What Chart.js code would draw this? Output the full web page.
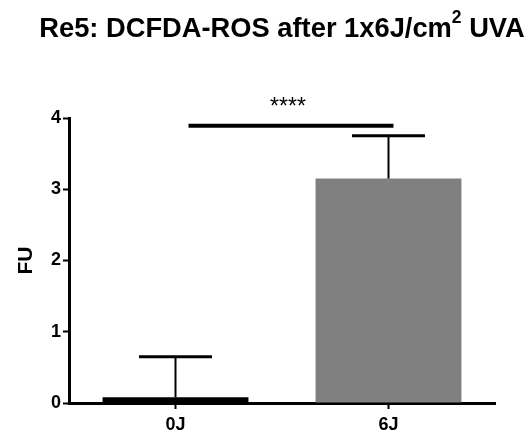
<!DOCTYPE html>
<html>
<head>
<meta charset="utf-8">
<script src="https://cdn.jsdelivr.net/npm/chart.js@4"></script>
<style>
  html, body { margin: 0; padding: 0; background: #fff; }
  #wrap { width: 528px; height: 434px; }
</style>
</head>
<body>
<div id="wrap"><canvas id="rosChart" width="528" height="434"></canvas></div>
<script>
const groups = ['0J', '6J'];
const meanFU = [0.08, 3.15];
const sdFU = [0.57, 0.60];
const barColors = ['#000000', '#808080'];
const yTicks = [0, 1, 2, 3, 4];
const sigLevel = 3.89;
const sigLabel = '****';
// title pieces: main text, superscript, tail
const titleParts = ['Re5: DCFDA-ROS after 1x6J/cm', '2', ' UVA'];

const FONT = 'Arial, "Liberation Sans", Helvetica, sans-serif';

// title with a real superscript, centred over the plot area
const superTitle = {
    id: 'superTitle',
    afterDraw(chart) {
        const ctx = chart.ctx;
        const area = chart.chartArea;
        const mainFont = 'bold 27.3px ' + FONT;
        const supFont = 'bold 17.5px ' + FONT;
        ctx.save();
        ctx.fillStyle = '#000';
        ctx.textBaseline = 'alphabetic';
        ctx.textAlign = 'left';
        ctx.font = mainFont;
        const w0 = ctx.measureText(titleParts[0]).width;
        const w2 = ctx.measureText(titleParts[2]).width;
        ctx.font = supFont;
        const w1 = ctx.measureText(titleParts[1]).width;
        const base = 36.5;
        let x = (area.left + area.right) / 2 - (w0 + w1 + w2) / 2;
        ctx.font = mainFont;
        ctx.fillText(titleParts[0], x, base);
        x += w0;
        ctx.font = supFont;
        ctx.fillText(titleParts[1], x, base - 13.5);
        x += w1;
        ctx.font = mainFont;
        ctx.fillText(titleParts[2], x, base);
        ctx.restore();
    }
};

// error bars (mean + SD, upper only) and significance bracket
const annotations = {
    id: 'annotations',
    afterDatasetsDraw(chart) {
        const ctx = chart.ctx;
        const x = chart.scales.x;
        const y = chart.scales.y;
        const meta = chart.getDatasetMeta(0);
        ctx.save();
        ctx.strokeStyle = '#000';
        meta.data.forEach((bar, i) => {
            const cx = bar.x;
            const top = y.getPixelForValue(meanFU[i] + sdFU[i]);
            const base = y.getPixelForValue(meanFU[i]);
            const half = bar.width / 4;
            ctx.lineWidth = 2;
            ctx.beginPath();
            ctx.moveTo(cx, base);
            ctx.lineTo(cx, top);
            ctx.stroke();
            ctx.lineWidth = 3;
            ctx.beginPath();
            ctx.moveTo(cx - half, top);
            ctx.lineTo(cx + half, top);
            ctx.stroke();
        });
        const x0 = x.getPixelForValue(0) + 13;
        const x1 = x.getPixelForValue(1) + 5;
        const ys = y.getPixelForValue(sigLevel);
        ctx.lineWidth = 4;
        ctx.beginPath();
        ctx.moveTo(x0, ys);
        ctx.lineTo(x1, ys);
        ctx.stroke();
        ctx.fillStyle = '#000';
        ctx.font = '23px ' + FONT;
        ctx.textAlign = 'center';
        ctx.textBaseline = 'middle';
        ctx.fillText(sigLabel, (x0 + x1) / 2 - 3, ys - 18);
        ctx.restore();
    }
};

new Chart(document.getElementById('rosChart').getContext('2d'), {
    type: 'bar',
    data: {
        labels: groups,
        datasets: [{
            data: meanFU,
            backgroundColor: barColors,
            borderWidth: 0,
            categoryPercentage: 1,
            barPercentage: 0.685
        }]
    },
    options: {
        responsive: false,
        animation: false,
        layout: { padding: { left: 0, right: 33, top: 118, bottom: 0 } },
        plugins: {
            legend: { display: false },
            tooltip: { enabled: false },
            title: { display: false }
        },
        scales: {
            x: {
                grid: { display: true, drawOnChartArea: false, drawTicks: true, tickLength: 6, tickWidth: 2, tickColor: '#000', offset: false },
                border: { display: true, color: '#000', width: 3 },
                ticks: { color: '#000', font: { family: FONT, size: 18, weight: 'bold' }, padding: 5 },
                afterFit(scale) { scale.height = 31; }
            },
            y: {
                min: 0,
                max: 4,
                afterBuildTicks(scale) { scale.ticks = yTicks.map(v => ({ value: v })); },
                grid: { display: true, drawOnChartArea: false, drawTicks: true, tickLength: 6, tickWidth: 2, tickColor: '#000' },
                border: { display: true, color: '#000', width: 3 },
                ticks: { color: '#000', font: { family: FONT, size: 18, weight: 'bold' }, padding: 2 },
                title: { display: true, text: 'FU', color: '#000', font: { family: FONT, size: 21, weight: 'bold' }, padding: { top: 14, bottom: 0 } },
                afterFit(scale) { scale.width = 69; }
            }
        }
    },
    plugins: [annotations, superTitle]
});
</script>
</body>
</html>
